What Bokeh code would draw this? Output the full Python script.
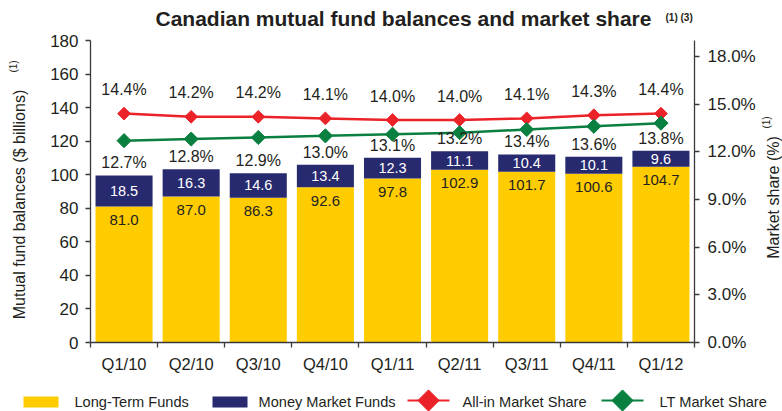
from math import pi
from bokeh.plotting import figure
from bokeh.layouts import column, row
from bokeh.models import (Range1d, LinearAxis, FixedTicker, PrintfTickFormatter,
                          CustomJSTickFormatter)
from bokeh.core.properties import value
from bokeh.embed import file_html
from bokeh.resources import INLINE

# ---------------- data ----------------
quarters = ["Q1/10", "Q2/10", "Q3/10", "Q4/10", "Q1/11", "Q2/11", "Q3/11", "Q4/11", "Q1/12"]
lt_funds = [81.0, 87.0, 86.3, 92.6, 97.8, 102.9, 101.7, 100.6, 104.7]
mm_funds = [18.5, 16.3, 14.6, 13.4, 12.3, 11.1, 10.4, 10.1, 9.6]
allin_share = [14.4, 14.2, 14.2, 14.1, 14.0, 14.0, 14.1, 14.3, 14.4]
lt_share = [12.7, 12.8, 12.9, 13.0, 13.1, 13.2, 13.4, 13.6, 13.8]
y_ticks = [0, 20, 40, 60, 80, 100, 120, 140, 160, 180]
share_ticks = [0, 3, 6, 9, 12, 15, 18]
legend_labels = ["Long-Term Funds", "Money Market Funds", "All-in Market Share", "LT Market Share"]
title_text = "Canadian mutual fund balances and market share"
left_label = "Mutual fund balances ($ billions)"
right_label = "Market share (%)"

# ---------------- styles ----------------
FONT = "Liberation Sans"
YELLOW = "#FFCC00"
NAVY = "#282A70"
RED = "#EC2229"
GREEN = "#0A8040"
TXT = "#231F20"
AX = "#3A3A3A"

TOTAL_W, TOTAL_H = 782, 411
TITLE_H, LEG_H = 30, 26
LEFT_W, RIGHT_W = 30, 24
MAIN_W = TOTAL_W - LEFT_W - RIGHT_W
MAIN_H = TOTAL_H - TITLE_H - LEG_H
BL, BR, BT, BB = 60, 63, 10, 43
N = len(quarters)
YMAX = 180
SHARE_MAX = 19.0


def strip(w, h):
    f = figure(width=w, height=h, x_range=Range1d(0, w), y_range=Range1d(0, h),
               x_axis_location=None, y_axis_location=None, min_border=0,
               toolbar_location=None, output_backend="svg", frame_align=False)
    f.grid.visible = False
    f.outline_line_color = None
    return f


# ---------------- main chart ----------------
p = figure(width=MAIN_W, height=MAIN_H, x_range=Range1d(0, N), y_range=Range1d(0, YMAX),
           output_backend="svg", toolbar_location=None, frame_align=False,
           min_border_left=BL, min_border_right=BR, min_border_top=BT, min_border_bottom=BB)
p.extra_y_ranges = {"share": Range1d(0, SHARE_MAX)}
p.grid.visible = False
p.outline_line_color = None

xc = [i + 0.5 for i in range(N)]
tops = [a + b for a, b in zip(lt_funds, mm_funds)]

p.vbar(x=xc, width=0.85, bottom=0, top=lt_funds, fill_color=YELLOW, line_color=None)
p.vbar(x=xc, width=0.85, bottom=lt_funds, top=tops, fill_color=NAVY, line_color=None)

p.text(x=xc, y=[a - 8 for a in lt_funds], text=[f"{v:.1f}" for v in lt_funds],
       text_align="center", text_baseline="middle", text_font=value(FONT),
       text_font_size="15px", text_color=TXT)
p.text(x=xc, y=[a + b / 2 for a, b in zip(lt_funds, mm_funds)], text=[f"{v:.1f}" for v in mm_funds],
       text_align="center", text_baseline="middle", text_font=value(FONT),
       text_font_size="14.5px", text_color="white")

p.line(xc, allin_share, y_range_name="share", line_color=RED, line_width=2.5)
p.scatter(xc, allin_share, y_range_name="share", marker="square", angle=pi / 4, size=9,
          fill_color=RED, line_color=RED)
p.line(xc, lt_share, y_range_name="share", line_color=GREEN, line_width=2.5)
p.scatter(xc, lt_share, y_range_name="share", marker="square", angle=pi / 4, size=10,
          fill_color=GREEN, line_color=GREEN)

p.text(x=xc, y=[v + 1.5 for v in allin_share], text=[f"{v:.1f}%" for v in allin_share],
       y_range_name="share", text_align="center", text_baseline="middle",
       text_font=value(FONT), text_font_size="16px", text_color=TXT)
p.text(x=xc, y=[t + 7.5 for t in tops], text=[f"{v:.1f}%" for v in lt_share],
       text_align="center", text_baseline="middle",
       text_font=value(FONT), text_font_size="16px", text_color=TXT)


def style_axis(ax, size="17px"):
    ax.axis_line_color = AX
    ax.axis_line_width = 1.3
    ax.major_tick_line_color = AX
    ax.major_tick_line_width = 1.3
    ax.minor_tick_line_color = None
    ax.major_tick_in = 0
    ax.major_tick_out = 5
    ax.major_label_text_font = FONT
    ax.major_label_text_font_size = size
    ax.major_label_text_color = TXT


ya = p.yaxis[0]
ya.ticker = FixedTicker(ticks=y_ticks)
style_axis(ya)
ya.major_label_standoff = 7

ra = LinearAxis(y_range_name="share", ticker=FixedTicker(ticks=share_ticks),
                formatter=PrintfTickFormatter(format="%.1f%%"))
style_axis(ra)
ra.major_label_standoff = 8
p.add_layout(ra, "right")

xa = p.xaxis[0]
xa.ticker = FixedTicker(ticks=xc, minor_ticks=list(range(N + 1)))
xa.formatter = CustomJSTickFormatter(args=dict(labels=quarters),
                                     code="return labels[Math.floor(tick)];")
style_axis(xa, "16.5px")
xa.major_tick_out = 0
xa.minor_tick_line_color = AX
xa.minor_tick_line_width = 1.3
xa.minor_tick_in = 0
xa.minor_tick_out = 5
xa.major_label_standoff = 7

# ---------------- title strip ----------------
ts = strip(TOTAL_W, TITLE_H)
ts.text(x=[155], y=[TITLE_H - 17.5], text=[title_text], text_align="left", text_baseline="middle",
        text_font=value(FONT), text_font_size="21px", text_font_style="bold", text_color=TXT)
ts.text(x=[665], y=[TITLE_H - 16.5], text=["(1) (3)"], text_align="left", text_baseline="middle",
        text_font=value(FONT), text_font_size="10px", text_font_style="bold", text_color=TXT)

# ---------------- axis-label strips ----------------
ls = strip(LEFT_W, MAIN_H)
ls.text(x=[19], y=[MAIN_H - (204 - TITLE_H)], text=[left_label], angle=pi / 2,
        text_align="center", text_baseline="middle", text_font=value(FONT),
        text_font_size="16px", text_color=TXT)
ls.text(x=[13], y=[MAIN_H - (66 - TITLE_H)], text=["(1)"], angle=pi / 2,
        text_align="center", text_baseline="middle", text_font=value(FONT),
        text_font_size="10px", text_color=TXT)

rs = strip(RIGHT_W, MAIN_H)
rs.text(x=[15], y=[MAIN_H - (197 - TITLE_H)], text=[right_label], angle=pi / 2,
        text_align="center", text_baseline="middle", text_font=value(FONT),
        text_font_size="16px", text_color=TXT)
rs.text(x=[8], y=[MAIN_H - (122 - TITLE_H)], text=["(1)"], angle=pi / 2,
        text_align="center", text_baseline="middle", text_font=value(FONT),
        text_font_size="10px", text_color=TXT)

# ---------------- legend strip ----------------
lg = strip(TOTAL_W, LEG_H)
top_y = TOTAL_H  # page y of the legend strip's bottom edge
lg.rect(x=[40.5, 229.5], y=[top_y - 401.5] * 2, width=35, height=11,
        fill_color=[YELLOW, NAVY], line_color=None)
lg.line([407, 449], [top_y - 400] * 2, line_color=RED, line_width=2)
lg.scatter([428], [top_y - 400], marker="square", angle=pi / 4, size=15,
           fill_color=RED, line_color=RED)
lg.line([601, 643], [top_y - 400] * 2, line_color=GREEN, line_width=2)
lg.scatter([622], [top_y - 400], marker="square", angle=pi / 4, size=15,
           fill_color=GREEN, line_color=GREEN)
lg.text(x=[74, 258, 462, 659], y=[top_y - 401] * 4, text=legend_labels, text_align="left",
        text_baseline="middle", text_font=value(FONT), text_font_size="14.6px", text_color=TXT)

layout = column(ts, row(ls, p, rs), lg)
open("out.html", "w").write(file_html(layout, INLINE))
